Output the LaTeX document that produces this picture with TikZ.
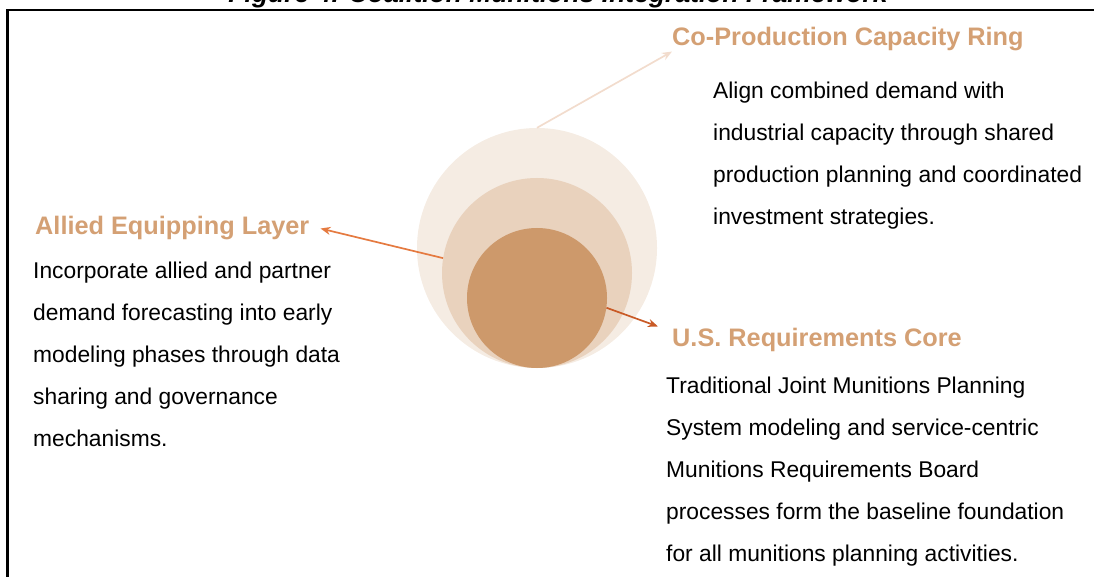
\documentclass[tikz,border=0pt]{standalone}
\usepackage{fontspec}
\setmainfont{Liberation Sans}
\usetikzlibrary{arrows.meta}

\definecolor{ringouter}{HTML}{F5ECE3}
\definecolor{ringmid}{HTML}{E9D2BD}
\definecolor{ringcore}{HTML}{CD996B}
\definecolor{headtan}{HTML}{D4A074}
\definecolor{arrowpale}{HTML}{F2DCCD}
\definecolor{arroworange}{HTML}{E57A40}
\definecolor{arrowrust}{HTML}{C95A26}

\tikzset{
  ring/.style={circle, inner sep=0pt, draw=none},
  heading/.style={font=\fontsize{25.3}{30}\selectfont\bfseries, text=headtan, inner sep=0pt, anchor=base west},
  bodytext/.style={font=\fontsize{22.8}{42}\selectfont, text=black, inner sep=0pt, anchor=north west, align=left},
  link/.style={line width=1.7pt, -{Stealth[length=10pt,width=8pt]}}
}

\begin{document}
\begin{tikzpicture}[x=1pt,y=-1pt]
\useasboundingbox (0,0) rectangle (1094,577);
\clip (0,0) rectangle (1094,577);

% figure caption, running off the top edge
\node[font=\fontsize{26.5}{30}\selectfont\bfseries\itshape, inner sep=0pt, anchor=base] (caption) at (558,3)
  {Figure 4. Coalition Munitions Integration Framework};

% outer frame
\draw[line width=2.8pt] (7.3,10) rectangle (1110,600);

% nested rings, all touching at the bottom
\node[ring, fill=ringouter, minimum size=240pt] (outer) at (537,248) {};
\node[ring, fill=ringmid, minimum size=190pt] (middle) at (537,273) {};
\node[ring, fill=ringcore, minimum size=140pt] (core) at (537,298) {};

% headings
\node[heading] (cophead) at (672,46) {Co-Production Capacity Ring};
\node[heading, inner xsep=11pt] (alliedhead) at (24,235) {Allied Equipping Layer};
\node[heading, inner xsep=14pt, inner ysep=1pt] (ushead) at (658,346) {U.S. Requirements Core};

% descriptions
\node[bodytext] (copbody) at (713,82) {Align combined demand with\\industrial capacity through shared\\production planning and coordinated\\investment strategies.};
\node[bodytext] (alliedbody) at (33,262) {Incorporate allied and partner\\demand forecasting into early\\modeling phases through data\\sharing and governance\\mechanisms.};
\node[bodytext] (usbody) at (666,377) {Traditional Joint Munitions Planning\\System modeling and service-centric\\Munitions Requirements Board\\processes form the baseline foundation\\for all munitions planning activities.};

% connectors from rings to headings
\draw[link, draw=arrowpale, fill=arrowpale] (outer.north) -- (cophead.south west);
\draw[link, draw=arroworange, fill=arroworange] (middle.171) -- (alliedhead.east);
\draw[link, draw=arrowrust, fill=arrowrust] (core.-8) -- (ushead.north west);
\end{tikzpicture}
\end{document}
